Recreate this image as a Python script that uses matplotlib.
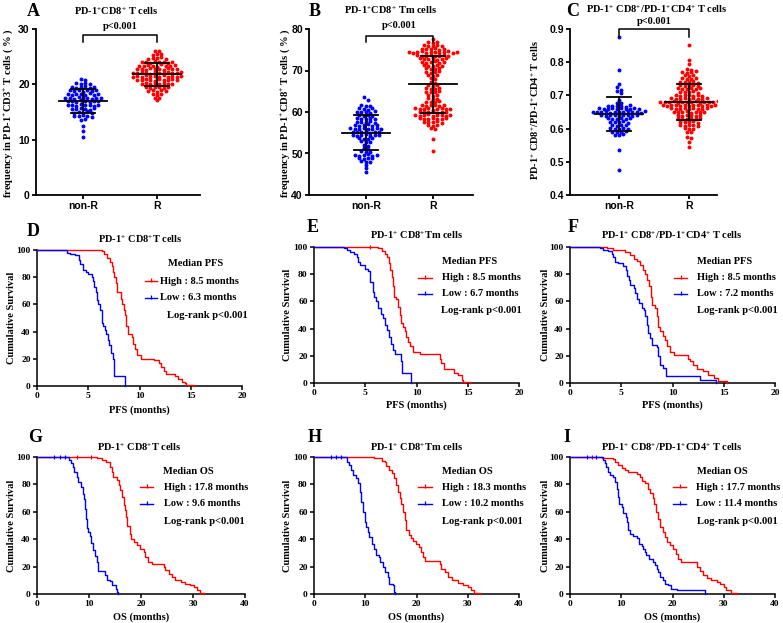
import numpy as np
import matplotlib
matplotlib.use('Agg')
import matplotlib.pyplot as plt
from matplotlib.lines import Line2D

SERIF = 'Liberation Serif'
SANS = 'Liberation Sans'
plt.rcParams['mathtext.fontset'] = 'custom'
plt.rcParams['mathtext.rm'] = 'Liberation Serif:bold'
plt.rcParams['mathtext.it'] = 'Liberation Serif:italic:bold'
plt.rcParams['mathtext.bf'] = 'Liberation Serif:bold'

# ---------------- scatter data (A, B, C) ----------------
groups = ['non-R', 'R']

A_nonR = [20.9, 20.8,
          20.3, 20.1, 20.2, 20.0,
          19.6, 19.4, 19.5, 19.7, 19.3, 19.5,
          18.9, 18.8, 19.0, 18.7, 18.9, 18.8, 19.0,
          18.2, 18.1, 18.3, 18.2, 18.0, 18.4, 18.1, 18.3,
          17.5, 17.6, 17.4, 17.7, 17.5, 17.6, 17.4, 17.5, 17.6,
          16.9, 17.0, 16.8, 17.1, 16.9, 16.8, 17.0, 16.9,
          16.2, 16.3, 16.1, 16.4, 16.2, 16.3, 16.1, 16.2,
          15.6, 15.5, 15.7, 15.6, 15.4, 15.8,
          14.9, 15.0, 14.8, 15.1, 14.9,
          14.3, 14.2, 14.4, 14.3, 14.1,
          13.6, 13.7,
          12.5, 11.6, 10.4]
A_R = [26.0, 26.1,
       25.3, 25.4, 25.5,
       24.6, 24.7, 24.8, 24.9, 24.5,
       24.0, 24.1, 23.9, 24.2, 24.0, 24.1, 23.9, 24.0,
       23.4, 23.3, 23.5, 23.4, 23.2, 23.6, 23.3, 23.4, 23.5,
       22.7, 22.8, 22.6, 22.9, 22.7, 22.8, 22.6, 22.9, 22.7, 22.8,
       22.1, 22.0, 22.2, 22.1, 21.9, 22.3, 22.0, 22.1, 22.2, 22.0, 22.1, 22.2,
       21.4, 21.5, 21.3, 21.6, 21.4, 21.5, 21.3, 21.6, 21.4, 21.5, 21.4, 21.5,
       20.8, 20.7, 20.9, 20.8, 20.6, 21.0, 20.7, 20.8, 20.9, 20.8,
       20.1, 20.2, 20.0, 20.3, 20.1, 20.2, 20.0, 20.1,
       19.5, 19.4, 19.6, 19.5, 19.3, 19.6,
       18.8, 18.9, 18.7, 19.0, 18.8,
       18.2, 18.1, 18.3,
       17.5, 17.6,
       17.2]

B_nonR = [63.5, 63.0,
          61.7, 61.5, 61.4,
          60.9, 60.7, 60.6, 61.0,
          60.0, 59.9, 60.1, 59.8, 60.2,
          59.3, 59.1, 59.2, 59.0,
          58.5, 58.3, 58.4, 58.6, 58.2,
          57.7, 57.5, 57.6, 57.8, 57.4,
          56.9, 56.7, 56.8, 57.0, 56.6, 56.8,
          56.1, 55.9, 56.0, 56.2, 55.8, 56.0, 56.1, 55.9,
          55.3, 55.1, 55.2, 55.4, 55.0, 55.2, 55.3,
          54.5, 54.3, 54.4, 54.6, 54.2, 54.4, 54.5,
          53.7, 53.5, 53.6, 53.8,
          52.9, 52.7, 52.8,
          52.1, 51.9,
          51.3, 51.1,
          50.5, 50.3, 50.4,
          49.7, 49.5, 49.6, 49.8, 49.4, 49.6,
          48.9, 48.7, 48.8, 49.0,
          48.1, 47.9, 48.0,
          47.2, 46.5, 45.6]
B_R = [77.7,
       76.9, 76.7, 76.8,
       76.1, 75.9, 76.0, 76.2, 75.8,
       75.3, 75.1, 75.2, 75.4, 75.0, 75.2,
       74.5, 74.3, 74.4, 74.6, 74.2, 74.4, 74.5, 74.3, 74.4, 74.6, 74.2, 74.4,
       73.7, 73.5, 73.6, 73.8, 73.4, 73.6, 73.7, 73.5,
       72.9, 72.7, 72.8, 73.0, 72.6, 72.8, 72.9,
       72.1, 71.9, 72.0, 72.2, 71.8, 72.0,
       71.3, 71.1, 71.2, 71.4, 71.0,
       70.5, 70.3, 70.4, 70.6,
       69.7, 69.5, 69.6, 69.8,
       68.9, 68.7, 68.8,
       68.1, 67.9,
       67.3, 67.1,
       66.5, 66.3, 66.4,
       65.7, 65.5, 65.6, 65.8,
       64.9, 64.7, 64.8, 65.0,
       64.1, 63.9, 64.0,
       63.3, 63.1, 63.2,
       62.5, 62.3, 62.4, 62.6,
       61.7, 61.5, 61.6, 61.8, 61.4, 61.6,
       60.9, 60.7, 60.8, 61.0, 60.6, 60.8, 60.9, 60.7, 60.8,
       60.1, 59.9, 60.0, 60.2, 59.8, 60.0, 60.1,
       59.3, 59.1, 59.2, 59.4, 59.0, 59.2, 59.3, 59.1, 59.2,
       58.5, 58.3, 58.4, 58.6, 58.2, 58.4, 58.5,
       57.7, 57.5, 57.6, 57.8, 57.4,
       56.9, 56.7, 56.8,
       56.1, 55.9,
       53.4, 50.7]

C_nonR = [0.876, 0.778, 0.734, 0.725, 0.716, 0.714, 0.707, 0.687, 0.676, 0.678,
          0.668, 0.667, 0.669, 0.668, 0.666, 0.670,
          0.661, 0.659, 0.660, 0.662, 0.658, 0.661, 0.660, 0.659, 0.662, 0.660,
          0.651, 0.649, 0.650, 0.652, 0.648, 0.651, 0.650, 0.649, 0.652, 0.650, 0.651, 0.648, 0.653,
          0.641, 0.639, 0.640, 0.642, 0.638, 0.641, 0.640, 0.639, 0.642,
          0.631, 0.629, 0.630, 0.632, 0.628, 0.631,
          0.621, 0.619, 0.620, 0.622, 0.618,
          0.611, 0.609, 0.610, 0.612,
          0.601, 0.599, 0.600, 0.602, 0.598,
          0.591, 0.589, 0.590, 0.592,
          0.582, 0.581, 0.583,
          0.536, 0.475]
C_R = [0.853, 0.806, 0.794, 0.781, 0.778,
       0.771, 0.768, 0.770, 0.772,
       0.761, 0.758, 0.760,
       0.751, 0.749, 0.750, 0.752,
       0.741, 0.739, 0.740, 0.742, 0.738,
       0.731, 0.729, 0.730, 0.732, 0.728,
       0.721, 0.719, 0.720, 0.722, 0.718, 0.721,
       0.711, 0.709, 0.710, 0.712, 0.708,
       0.701, 0.699, 0.700, 0.702, 0.698, 0.701, 0.699,
       0.691, 0.689, 0.690, 0.692, 0.688, 0.691, 0.689, 0.690, 0.692,
       0.681, 0.679, 0.680, 0.682, 0.678, 0.681, 0.679, 0.680, 0.682, 0.678, 0.681, 0.679, 0.680, 0.683,
       0.671, 0.669, 0.670, 0.672, 0.668, 0.671, 0.669, 0.670, 0.672, 0.668, 0.671, 0.669, 0.670,
       0.661, 0.659, 0.660, 0.662, 0.658, 0.661, 0.659, 0.660, 0.662,
       0.651, 0.649, 0.650, 0.652, 0.648, 0.651, 0.649, 0.650,
       0.641, 0.639, 0.640, 0.642, 0.638, 0.641,
       0.631, 0.629, 0.630, 0.632, 0.628, 0.631,
       0.621, 0.619, 0.620, 0.622, 0.618,
       0.611, 0.609, 0.610, 0.612, 0.608,
       0.601, 0.599, 0.600,
       0.591, 0.589,
       0.574, 0.573, 0.561, 0.544]

# ---------------- Kaplan-Meier data (D-I) ----------------
D_hi_t = [0, 6.3, 6.5, 6.8, 7.1, 7.3, 7.4, 7.55, 7.7, 7.8, 8.2, 8.3, 8.45, 8.55, 8.65, 8.9, 9.3, 9.4, 9.55, 9.75,
          10.1, 11.4, 11.9, 12.1, 12.4, 12.6, 13.5, 13.8, 14.1, 14.4, 14.5, 15.3]
D_hi_s = [100, 99, 97, 94, 91, 88, 84, 80, 76, 69, 64, 60, 56, 52, 44, 38, 36, 31, 27, 23,
          20, 19, 17, 14, 11, 9, 7, 5, 3, 2, 1, 0]
D_lo_t = [0, 2.9, 3.25, 3.7, 4.05, 4.2, 4.5, 4.8, 5.0, 5.35, 5.5, 5.6, 5.75, 5.85, 5.95, 6.1, 6.3, 6.45, 6.6, 6.75,
          6.9, 7.05, 7.25, 7.4, 7.5, 8.6]
D_lo_s = [100, 98, 97, 96, 93, 90, 85, 84, 82, 80, 77, 73, 69, 63, 60, 56, 46, 44, 41, 38,
          34, 30, 24, 20, 7, 0]

E_hi_t = [0, 6.25, 6.6, 6.9, 7.15, 7.3, 7.45, 7.6, 7.7, 7.8, 8.0, 8.2, 8.36, 8.5, 8.7, 8.85, 9.0, 9.17, 9.4, 9.66,
          10.3, 12.26, 12.4, 12.65, 13.7, 14.05, 14.4, 14.55, 15.25]
E_hi_s = [100, 99, 97, 95, 93, 88, 83, 78, 71, 63, 62, 56, 50, 44, 41, 38, 34, 30, 27, 23,
          21, 18, 15, 10, 7, 6, 2, 1, 0]
E_lo_t = [0, 2.93, 3.2, 3.5, 3.9, 4.2, 4.3, 4.5, 4.95, 5.27, 5.43, 5.5, 5.75, 5.9, 6.08, 6.24, 6.57, 6.73, 6.9, 7.1,
          7.3, 7.5, 7.7, 7.87, 8.5, 8.6, 9.45]
E_lo_s = [100, 99, 98, 96, 95, 93, 89, 87, 84, 82, 78, 74, 67, 63, 60, 55, 51, 48, 43, 39,
          34, 29, 24, 21, 16, 7, 0]

F_hi_t = [0, 3.64, 4.2, 4.9, 5.4, 5.85, 6.2, 6.5, 6.8, 7.1, 7.3, 7.55, 7.7, 7.87, 7.97, 8.3, 8.45, 8.6, 8.8, 9.04,
          9.27, 9.43, 9.76, 10.1, 11.5, 11.7, 12.0, 12.36, 13.0, 13.5, 14.0, 14.4, 15.3]
F_hi_s = [100, 99.5, 98, 97.5, 96, 94, 91.5, 90, 87, 83, 80, 76, 71, 63, 57, 55, 49, 41.5, 38, 34.6,
          31.7, 27, 23, 20.5, 18, 16, 13, 10, 8.5, 6, 3.7, 1.2, 0]
F_lo_t = [0, 2.93, 3.25, 3.74, 4.07, 4.23, 4.4, 4.7, 5.2, 5.46, 5.6, 5.8, 5.9, 6.2, 6.34, 6.57, 6.76, 7.0, 7.2, 7.3,
          7.5, 7.64, 7.8, 7.97, 8.45, 8.6, 8.8, 9.1, 9.33, 12.7, 14.2]
F_lo_s = [100, 99.5, 98, 97, 95, 92.7, 89, 88, 86, 83, 79, 75.6, 72, 69.5, 66, 62, 58.5, 55, 53.7, 49,
          42.7, 36.6, 33, 28, 26.8, 19.5, 13.4, 11, 4.9, 2, 0]

G_hi_t = [0, 11.5, 12.5, 13.3, 14.0, 14.4, 14.7, 15.4, 15.7, 16.0, 16.35, 16.7, 17.0, 17.2, 17.4, 17.8, 18.1, 18.6,
          19.2, 19.9, 20.5, 20.8, 21.3, 22.1, 24.4, 24.7, 25.3, 25.96, 26.6, 27.6, 28.5, 29.5, 30.1, 30.8, 31.4, 32.2]
G_hi_s = [100, 99, 97.8, 96, 93, 89, 85.6, 83, 79.5, 76, 71, 65, 61, 56, 50, 44, 40.5, 38,
          35.6, 33, 30.7, 27, 23.4, 22, 19.8, 17.3, 14.9, 12.4, 10, 8.8, 7.6, 6.3, 5.1, 2.7, 0.7, 0]
G_lo_t = [0, 6.1, 6.5, 6.9, 7.2, 7.6, 7.8, 8.5, 8.8, 9.0, 9.3, 9.5, 9.7, 9.9, 10.1, 10.4, 10.7, 11.2, 11.5, 11.7,
          13.1, 13.5, 14.1, 14.4, 15.1, 15.4, 15.6]
G_lo_s = [100, 97.8, 95.4, 93, 89, 85.6, 82, 78, 73, 69, 62, 55, 48, 45, 42, 37, 32, 28, 23, 17,
          13.7, 10, 9.3, 6.3, 3.9, 1.5, 0]

H_hi_t = [0, 11.8, 12.8, 13.3, 13.8, 14.1, 14.7, 15.3, 15.6, 16.0, 16.4, 16.7, 17.0, 17.3, 17.7, 18.0, 18.5, 19.0,
          19.4, 19.9, 20.5, 20.8, 21.2, 21.7, 24.5, 24.8, 25.5, 26.1, 26.9, 28.05, 29.0, 30.0, 30.6, 31.3, 32.3]
H_hi_s = [100, 99.5, 99, 97.3, 96, 93.6, 90.5, 88, 84.4, 79.5, 74.6, 69.8, 66, 60, 54, 46.6, 43, 41,
          39, 36.8, 34.4, 30.7, 27, 24.3, 22, 18.5, 16, 12.4, 10, 8.3, 6.8, 5.1, 2.7, 1, 0]
H_lo_t = [0, 6.4, 6.8, 7.3, 7.6, 8.1, 8.6, 8.9, 9.2, 9.5, 9.9, 10.2, 10.5, 10.8, 11.4, 11.8, 12.1, 12.7, 12.9, 13.4,
          13.8, 14.4, 14.7, 15.4, 15.7, 15.8]
H_lo_s = [100, 96.6, 94, 90.5, 86.8, 84.4, 80.7, 74.6, 67.3, 60, 52.7, 49, 45.4, 41.7, 36.8, 33, 28.3, 27, 23.4, 19.8,
          16, 12.4, 7.6, 6.3, 1.5, 0]

I_hi_t = [0, 6.2, 7.1, 8.4, 8.8, 9.4, 10.1, 10.7, 11.4, 12.3, 13.0, 13.6, 14.0, 14.6, 15.3, 15.6, 16.1, 16.4, 16.75,
          17.1, 17.5, 18.05, 18.5, 19.0, 19.5, 20.1, 20.65, 21.1, 21.75, 24.7, 25.3, 26.0, 26.75, 27.6, 28.6, 29.2,
          30.0, 30.5, 31.5, 32.5]
I_hi_s = [100, 99.5, 99, 98.5, 96.6, 94, 91.7, 90.5, 89.3, 88.8, 87.3, 85.6, 82.7, 80.7, 77, 73.4, 69.8, 66, 60,
          55, 49, 45.4, 41.7, 38, 35.6, 32.7, 29.5, 25.9, 23, 19.8, 16.6, 14.1, 11.7, 10, 8.8, 7.6,
          5.1, 2.7, 1, 0]
I_lo_t = [0, 6.5, 6.8, 7.1, 7.5, 7.8, 8.4, 8.8, 9.1, 9.4, 9.6, 10.1, 10.4, 10.9, 11.2, 11.4, 11.8, 12.3, 13.0, 13.5,
          14.0, 14.3, 14.6, 14.9, 15.5, 16.1, 16.6, 16.9, 17.2, 17.5, 18.05, 18.5, 19.2, 19.8, 20.8, 26.4]
I_lo_s = [100, 97.8, 95.4, 93, 89.3, 86.8, 85.6, 82, 77, 71, 66, 63.7, 58.8, 56.3, 52.7, 46.6, 44, 42.4, 41, 36.8,
          35, 33, 30.7, 28.3, 25.9, 23.4, 21, 18.5, 16, 12.4, 10, 7.6, 6.3, 3.9, 3.2, 0]

# censored observations (times)
E_hi_c = [5.43]
G_hi_c = [7.6, 10.3]
G_lo_c = [3.2, 4.4, 5.3]
H_lo_c = [3.4, 4.2, 5.3]
I_hi_c = [4.2]
I_lo_c = [3.3, 5.0]

medians = {'D': ('8.5', '6.3'), 'E': ('8.5', '6.7'), 'F': ('8.5', '7.2'),
           'G': ('17.8', '9.6'), 'H': ('18.3', '10.2'), 'I': ('17.7', '11.4')}

# ---------------- figure ----------------
W, H = 783, 623
fig = plt.figure(figsize=(W / 100, H / 100), dpi=100)
RED = '#ff0000'
BLUE = '#0000ff'


def add_ax(l, t, r, b):
    return fig.add_axes([l / W, 1 - b / H, (r - l) / W, (b - t) / H])


def ftext(x, y, s, **kw):
    kw.setdefault('fontfamily', SERIF)
    kw.setdefault('fontweight', 'bold')
    fig.text(x / W, 1 - y / H, s, **kw)


def swarm_x(vals, center, h, dx):
    vals = np.asarray(vals)
    rows = np.round(vals / h).astype(int)
    x = np.zeros(len(vals))
    for r in np.unique(rows):
        idx = np.where(rows == r)[0]
        n = len(idx)
        x[idx] = center + (np.arange(n) - (n - 1) / 2) * dx
    return x


def style_axes(ax, lw):
    for s in ['top', 'right']:
        ax.spines[s].set_visible(False)
    for s in ['left', 'bottom']:
        ax.spines[s].set_linewidth(lw)
    ax.tick_params(direction='out', length=3, width=lw, pad=1.5)


def scatter_panel(box, xlim, ylim, yticks, yfmt, nonR, R, h, brk, p_y):
    ax = add_ax(*box)
    ax.set_xlim(xlim)
    ax.set_ylim(ylim)
    ppu = (box[2] - box[0]) / (xlim[1] - xlim[0])
    for pos, vals, col in [(0, nonR, BLUE), (1, R, RED)]:
        xs = swarm_x(vals, pos, h, 4.4 / ppu)
        ax.scatter(xs, vals, s=8, c=col, linewidths=0, zorder=2)
        m = np.mean(vals)
        sd = np.std(vals, ddof=1)
        ax.plot([pos - 24 / ppu, pos + 24 / ppu], [m, m], color='k', lw=1.3, zorder=3)
        for yv in (m - sd, m + sd):
            ax.plot([pos - 12 / ppu, pos + 12 / ppu], [yv, yv], color='k', lw=1.3, zorder=3)
        ax.plot([pos, pos], [m - sd, m + sd], color='k', lw=1.3, zorder=3)
    ax.plot([0, 0, 1, 1], [brk[1], brk[0], brk[0], brk[1]], color='k', lw=1.1, clip_on=False)
    ax.text(0.5, p_y, 'p<0.001', ha='center', va='center', fontfamily=SERIF,
            fontweight='bold', fontsize=7.5, clip_on=False)
    style_axes(ax, 1.3)
    ax.set_xticks([0, 1])
    ax.set_xticklabels(groups, fontfamily=SANS, fontweight='bold', fontsize=7.5)
    ax.set_yticks(yticks)
    ax.set_yticklabels([yfmt.format(v) for v in yticks], fontfamily=SANS, fontweight='bold', fontsize=7.5)
    return ax


scatter_panel((36, 29, 200, 195), (-0.635, 1.58), (0, 30), [0, 10, 20, 30], '{:.0f}',
              A_nonR, A_R, 0.65, (28.9, 27.6), 30.4)
scatter_panel((309, 29, 473, 195), (-0.85, 1.6), (40, 80), [40, 50, 60, 70, 80], '{:.0f}',
              B_nonR, B_R, 0.8, (78.4, 76.8), 80.8)
scatter_panel((570, 29, 717, 195), (-0.7, 1.4), (0.4, 0.9), [0.4, 0.5, 0.6, 0.7, 0.8, 0.9], '{:.1f}',
              C_nonR, C_R, 0.01, (0.899, 0.877), 0.922)

ftext(33, 12, 'A', fontsize=13, ha='center', va='center')
ftext(315, 12, 'B', fontsize=13, ha='center', va='center')
ftext(573, 12, 'C', fontsize=13, ha='center', va='center')
ftext(116, 11, r'PD-1$^{+}$CD8$^{+}$ T cells', fontsize=7.5, ha='center', va='center')
ftext(391, 10, r'PD-1$^{+}$CD8$^{+}$ Tm cells', fontsize=7.5, ha='center', va='center')
ftext(657, 9, r'PD-1$^{+}$ CD8$^{+}$/PD-1$^{+}$CD4$^{+}$ T cells', fontsize=7.5, ha='center', va='center')
ftext(8, 113, r'frequency in PD-1$^{+}$CD3$^{+}$ T cells ( % )', fontsize=7.6, rotation=90,
      ha='center', va='center')
ftext(285, 113, r'frequency in PD-1$^{+}$CD8$^{+}$ T cells ( % )', fontsize=7.6, rotation=90,
      ha='center', va='center')
ftext(535, 110, r'PD-1$^{+}$ CD8$^{+}$/PD-1$^{+}$CD4$^{+}$ T cells', fontsize=7.4, rotation=90,
      ha='center', va='center')

# ---------------- KM panels ----------------
km_panels = [
    dict(key='D', box=(37, 250, 242, 386), xmax=20, xstep=5, kind='PFS',
         hi=(D_hi_t, D_hi_s, []), lo=(D_lo_t, D_lo_s, []),
         title=r'PD-1$^{+}$ CD8$^{+}$T cells', title_xy=(140, 239), letter_xy=(33, 232),
         ylab_x=12, xlab_y=410, med_xy=(168, 263), line_x=(145, 157), text_x=160,
         hi_y=281, lo_y=298, lr_xy=(167, 316)),
    dict(key='E', box=(314, 247, 519, 383), xmax=20, xstep=5, kind='PFS',
         hi=(E_hi_t, E_hi_s, E_hi_c), lo=(E_lo_t, E_lo_s, []),
         title=r'PD-1$^{+}$ CD8$^{+}$Tm cells', title_xy=(417, 235), letter_xy=(313, 227),
         ylab_x=288, xlab_y=405, med_xy=(442, 261), line_x=(418, 432), text_x=442,
         hi_y=278, lo_y=294, lr_xy=(441, 311)),
    dict(key='F', box=(570, 247, 775, 383), xmax=20, xstep=5, kind='PFS',
         hi=(F_hi_t, F_hi_s, []), lo=(F_lo_t, F_lo_s, []),
         title=r'PD-1$^{+}$ CD8$^{+}$/PD-1$^{+}$CD4$^{+}$ T cells', title_xy=(672, 235), letter_xy=(573, 227),
         ylab_x=545, xlab_y=405, med_xy=(697, 261), line_x=(674, 687), text_x=697,
         hi_y=278, lo_y=294, lr_xy=(697, 311)),
    dict(key='G', box=(37, 457, 245, 594), xmax=40, xstep=10, kind='OS',
         hi=(G_hi_t, G_hi_s, G_hi_c), lo=(G_lo_t, G_lo_s, G_lo_c),
         title=r'PD-1$^{+}$ CD8$^{+}$T cells', title_xy=(139, 447), letter_xy=(35, 437),
         ylab_x=12, xlab_y=617, med_xy=(163, 472), line_x=(140, 153), text_x=164,
         hi_y=487, lo_y=504, lr_xy=(164, 522)),
    dict(key='H', box=(314, 457, 519, 594), xmax=40, xstep=10, kind='OS',
         hi=(H_hi_t, H_hi_s, []), lo=(H_lo_t, H_lo_s, H_lo_c),
         title=r'PD-1$^{+}$ CD8$^{+}$Tm cells', title_xy=(417, 447), letter_xy=(315, 437),
         ylab_x=288, xlab_y=617, med_xy=(442, 472), line_x=(418, 432), text_x=442,
         hi_y=487, lo_y=504, lr_xy=(442, 522)),
    dict(key='I', box=(570, 457, 775, 594), xmax=40, xstep=10, kind='OS',
         hi=(I_hi_t, I_hi_s, I_hi_c), lo=(I_lo_t, I_lo_s, I_lo_c),
         title=r'PD-1$^{+}$ CD8$^{+}$/PD-1$^{+}$CD4$^{+}$ T cells', title_xy=(672, 447), letter_xy=(567, 437),
         ylab_x=545, xlab_y=617, med_xy=(697, 472), line_x=(673, 686), text_x=696,
         hi_y=487, lo_y=504, lr_xy=(697, 522)),
]


def step_value(t, s, c):
    i = np.searchsorted(t, c, side='right') - 1
    return s[i]


for p in km_panels:
    ax = add_ax(*p['box'])
    ax.set_xlim(0, p['xmax'])
    ax.set_ylim(0, 100)
    for (t, s, cens), col in [(p['hi'], RED), (p['lo'], BLUE)]:
        ax.step(t, s, where='post', color=col, lw=1.0, clip_on=False, zorder=3)
        if cens:
            cy = [step_value(t, s, c) for c in cens]
            ax.plot(cens, cy, ls='none', marker='|', ms=3.5, mew=0.9, color=col, clip_on=False, zorder=3)
    style_axes(ax, 1.1)
    xt = np.arange(0, p['xmax'] + 0.1, p['xstep'])
    ax.set_xticks(xt)
    ax.set_xticklabels(['{:.0f}'.format(v) for v in xt], fontfamily=SERIF, fontweight='bold', fontsize=6.8)
    yt = [0, 20, 40, 60, 80, 100]
    ax.set_yticks(yt)
    ax.set_yticklabels([str(v) for v in yt], fontfamily=SERIF, fontweight='bold', fontsize=6.8)

    l, t0, r, b = p['box']
    ftext(p['letter_xy'][0], p['letter_xy'][1], p['key'], fontsize=13, ha='center', va='center')
    ftext(p['title_xy'][0], p['title_xy'][1], p['title'], fontsize=7.5, ha='center', va='center')
    ftext(p['ylab_x'], (t0 + b) / 2, 'Cumulative Survival', fontsize=7.5, rotation=90, ha='center', va='center')
    ftext((l + r) / 2, p['xlab_y'], p['kind'] + ' (months)', fontsize=7.5, ha='center', va='center')

    # legend
    hi_m, lo_m = medians[p['key']]
    ftext(p['med_xy'][0], p['med_xy'][1], 'Median ' + p['kind'], fontsize=7.6, ha='left', va='center')
    x1, x2 = p['line_x']
    for yy, col, lab in [(p['hi_y'], RED, 'High : ' + hi_m + ' months'),
                         (p['lo_y'], BLUE, 'Low : ' + lo_m + ' months')]:
        fig.add_artist(Line2D([x1 / W, x2 / W], [1 - yy / H] * 2, color=col, lw=1.0,
                              transform=fig.transFigure))
        fig.add_artist(Line2D([(x1 + x2) / 2 / W], [1 - (yy - 0.8) / H], color=col, ls='none',
                              marker='|', ms=3, mew=0.9, transform=fig.transFigure))
        ftext(p['text_x'], yy, lab, fontsize=7.5, ha='left', va='center')
    ftext(p['lr_xy'][0], p['lr_xy'][1], 'Log-rank p<0.001', fontsize=7.6, ha='left', va='center')

fig.savefig('out.png', dpi=100)
